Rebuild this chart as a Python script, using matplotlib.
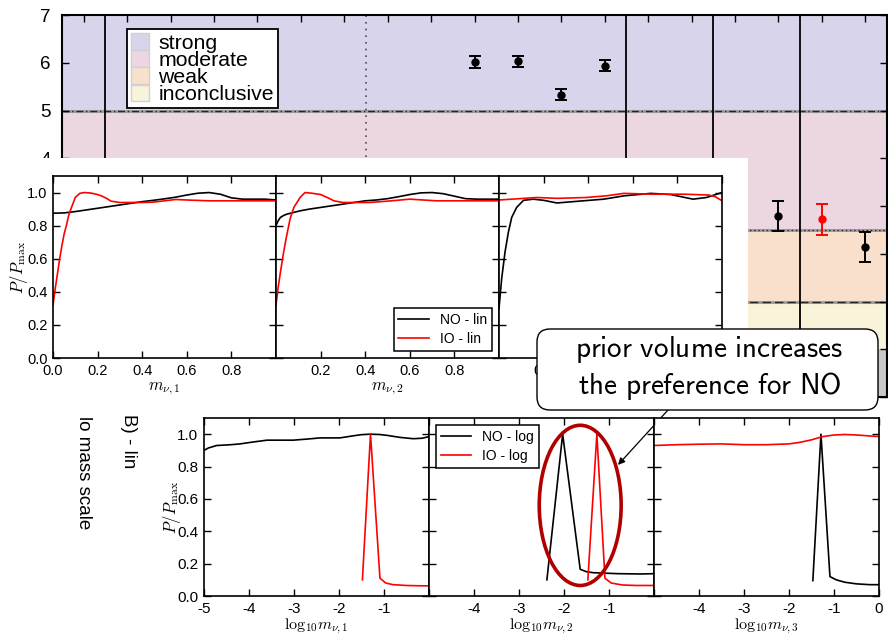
import matplotlib
matplotlib.use('Agg')
import matplotlib.pyplot as plt
from matplotlib.patches import Rectangle, Ellipse, FancyBboxPatch, Patch

plt.rcParams['font.family'] = ['Liberation Sans', 'DejaVu Sans']
plt.rcParams['mathtext.fontset'] = 'cm'
plt.rcParams['legend.fancybox'] = False
plt.rcParams['legend.edgecolor'] = 'black'
plt.rcParams['legend.framealpha'] = 1.0

# ---------------- data ----------------
# main evidence plot
pts_x = [9, 10, 11, 12, 16, 18]
pts_y = [6.02, 6.03, 5.33, 5.94, 2.79, 2.14]
pts_err = [0.12, 0.12, 0.12, 0.12, 0.32, 0.31]
red_x = [17]
red_y = [2.72]
red_err = [0.33]

region_bounds = [-1, 0, 1, 2.5, 5, 7]
region_colors = ['#c8c8c8', '#f8f3d9', '#f9e0cc', '#ecd6e2', '#d8d4eb']
region_labels = ['', 'inconclusive', 'weak', 'moderate', 'strong']

solid_sep = [0.5, 12.5, 14.5, 16.5]
dotted_sep = [6.5]
main_xticks = list(range(0, 19))
main_yticks = list(range(-1, 8))

# linear-prior panels (m_nu,i in [0,1])
lin1_no_x = [0, 0.05, 0.1, 0.15, 0.2, 0.25, 0.3, 0.35, 0.4, 0.45, 0.5, 0.55, 0.6, 0.65, 0.7, 0.75, 0.8, 0.85, 0.9, 0.95, 1.0]
lin1_no_y = [0.875, 0.877, 0.885, 0.895, 0.905, 0.915, 0.925, 0.935, 0.945, 0.953, 0.962, 0.972, 0.985, 0.996, 1.0, 0.99, 0.968, 0.96, 0.96, 0.96, 0.955]
lin1_io_x = [0, 0.01, 0.02, 0.03, 0.04, 0.05, 0.06, 0.07, 0.08, 0.1, 0.12, 0.14, 0.17, 0.2, 0.22, 0.24, 0.26, 0.3, 0.35, 0.4, 0.45, 0.5, 0.55, 0.6, 0.7, 0.8, 0.9, 1.0]
lin1_io_y = [0.32, 0.42, 0.51, 0.60, 0.68, 0.75, 0.80, 0.86, 0.90, 0.97, 0.995, 1.0, 0.997, 0.988, 0.978, 0.965, 0.948, 0.94, 0.94, 0.94, 0.942, 0.95, 0.958, 0.955, 0.95, 0.95, 0.95, 0.95]

lin2_no_x = [0, 0.01, 0.02, 0.035, 0.05, 0.08, 0.11, 0.15, 0.2, 0.25, 0.3, 0.35, 0.4, 0.45, 0.5, 0.55, 0.6, 0.65, 0.7, 0.75, 0.8, 0.85, 0.9, 0.95, 1.0]
lin2_no_y = [0.80, 0.83, 0.85, 0.862, 0.87, 0.88, 0.89, 0.90, 0.91, 0.92, 0.93, 0.94, 0.95, 0.955, 0.963, 0.975, 0.988, 0.998, 1.0, 0.993, 0.978, 0.963, 0.96, 0.96, 0.96]
lin2_io_x = [0, 0.01, 0.02, 0.033, 0.045, 0.063, 0.08, 0.108, 0.13, 0.16, 0.2, 0.23, 0.26, 0.3, 0.35, 0.42, 0.5, 0.6, 0.72, 0.85, 1.0]
lin2_io_y = [0.32, 0.43, 0.52, 0.63, 0.72, 0.84, 0.91, 0.97, 1.0, 0.996, 0.988, 0.97, 0.95, 0.94, 0.94, 0.94, 0.948, 0.96, 0.95, 0.95, 0.95]

lin3_no_x = [0, 0.012, 0.027, 0.042, 0.057, 0.079, 0.11, 0.154, 0.2, 0.26, 0.35, 0.47, 0.56, 0.68, 0.77, 0.87, 0.93, 1.0]
lin3_no_y = [0.30, 0.48, 0.64, 0.76, 0.85, 0.91, 0.953, 0.96, 0.953, 0.937, 0.947, 0.96, 0.98, 0.995, 0.988, 0.96, 0.97, 1.0]
lin3_io_x = [0, 0.08, 0.17, 0.26, 0.39, 0.48, 0.56, 0.69, 0.83, 0.94, 0.97, 1.0]
lin3_io_y = [0.955, 0.962, 0.97, 0.965, 0.97, 0.98, 0.995, 0.99, 0.99, 0.985, 0.975, 0.95]

# logarithmic-prior panels (log10 m_nu,i in [-5,0])
log1_no_x = [-5, -4.9, -4.72, -4.4, -4.2, -3.9, -3.6, -3.3, -3.02, -2.7, -2.42, -1.98, -1.68, -1.5, -1.31, -1.1, -0.94, -0.64, -0.35, -0.15, 0]
log1_no_y = [0.90, 0.915, 0.93, 0.935, 0.94, 0.952, 0.963, 0.963, 0.963, 0.97, 0.977, 0.977, 0.99, 0.997, 1.0, 0.998, 0.993, 0.98, 0.972, 0.975, 0.985]
log1_io_x = [-1.48, -1.30, -1.09, -0.96, -0.8, -0.5, -0.2, 0]
log1_io_y = [0.1, 1.0, 0.11, 0.08, 0.07, 0.065, 0.063, 0.063]

log2_no_x = [-2.38, -2.03, -1.64, -1.5, -1.35, -0.8, -0.3, 0]
log2_no_y = [0.1, 1.0, 0.165, 0.15, 0.144, 0.138, 0.136, 0.138]
log2_io_x = [-1.47, -1.27, -1.09, -0.95, -0.7, -0.4, 0]
log2_io_y = [0.1, 1.0, 0.11, 0.08, 0.068, 0.065, 0.065]

log3_no_x = [-1.47, -1.29, -1.09, -0.95, -0.76, -0.5, -0.2, 0]
log3_no_y = [0.095, 1.0, 0.12, 0.1, 0.085, 0.075, 0.07, 0.07]
log3_io_x = [-5, -4.5, -4, -3.5, -3, -2.5, -2, -1.75, -1.5, -1.25, -1, -0.75, -0.5, -0.25, 0]
log3_io_y = [0.93, 0.935, 0.938, 0.94, 0.935, 0.935, 0.94, 0.95, 0.965, 0.985, 0.995, 0.998, 0.995, 0.99, 0.985]

inset_yticks = [0.0, 0.2, 0.4, 0.6, 0.8, 1.0]
lin_xticks = [0.0, 0.2, 0.4, 0.6, 0.8]
log_xticks = [-5, -4, -3, -2, -1, 0]

callout_text = "$\\mathsf{prior\\ volume\\ increases}$\n$\\mathsf{the\\ preference\\ for\\ NO}$"

# ---------------- layout helpers ----------------
W, H = 888, 635
fig = plt.figure(figsize=(W / 100, H / 100), dpi=100)


def box(x0, y0, x1, y1):
    return [x0 / W, 1 - y1 / H, (x1 - x0) / W, (y1 - y0) / H]


# ---------------- main axes ----------------
ax = fig.add_axes(box(62, 15, 887, 397), zorder=0)
ax.set_xlim(-0.5, 18.5)
ax.set_ylim(-1, 7)
for lo, hi, c in zip(region_bounds[:-1], region_bounds[1:], region_colors):
    ax.axhspan(lo, hi, color=c, lw=0, zorder=0)

for yv, ls in [(5, (0, (5, 2, 1, 2))), (2.5, (0, (1, 2))), (1, (0, (6, 3)))]:
    ax.axhline(yv, color='0.62', lw=2.2, zorder=1)
    ax.axhline(yv, color='0.15', lw=1.0, ls=ls, zorder=1)

for xv in solid_sep:
    ax.axvline(xv, color='k', lw=1.3, zorder=2)
for xv in dotted_sep:
    ax.axvline(xv, color='0.3', lw=1.2, ls=(0, (1, 3)), zorder=2)

ax.errorbar(pts_x, pts_y, yerr=pts_err, fmt='o', color='k', ms=5,
            capsize=4, elinewidth=1.4, capthick=1.4, zorder=3)
ax.errorbar(red_x, red_y, yerr=red_err, fmt='o', color='#ff0000', ms=5,
            capsize=4, elinewidth=1.4, capthick=1.4, zorder=3)

ax.set_xticks(main_xticks)
ax.set_yticks(main_yticks)
ax.set_yticklabels([str(v) if v >= 3 else '' for v in main_yticks])
ax.tick_params(direction='in', top=True, right=True, labelbottom=False,
               length=5, width=1, labelsize=13.5, pad=8)
for s in ax.spines.values():
    s.set_linewidth(1.5)

handles = [Patch(facecolor=c, edgecolor='0.82', label=l)
           for c, l in zip(region_colors[::-1], region_labels[::-1]) if l]
ax.legend(handles=handles, loc='upper left',
          bbox_to_anchor=((127 - 62) / 825, 1 - (29 - 15) / 382),
          borderaxespad=0, fontsize=15.3, labelspacing=-0.12,
          handlelength=0.82, handleheight=0.82, handletextpad=0.45,
          borderpad=0.2, frameon=True).get_frame().set_linewidth(1.3)

# white backdrop of the upper inset
fig.add_artist(Rectangle((0, 1 - 410 / H), 748 / W, (410 - 158) / H,
                         transform=fig.transFigure, facecolor='white',
                         edgecolor='none', zorder=1))


def style_inset(a, xlim, xticks, ylabel_x, fs):
    a.set_xlim(*xlim)
    a.set_ylim(0, 1.1)
    a.set_yticks(inset_yticks)
    a.set_xticks(xticks)
    a.tick_params(direction='in', top=True, right=True, length=5, width=1,
                  labelsize=fs, labelleft=ylabel_x is not None, pad=4)
    for s in a.spines.values():
        s.set_linewidth(1.2)
    if ylabel_x is not None:
        a.set_ylabel(r'$P/P_{\rm max}$', fontsize=12)
        a.yaxis.set_label_coords(ylabel_x, 0.5)


# ---------------- upper inset: linear priors ----------------
lin_boxes = [(53, 176, 276, 358), (276, 176, 499, 358), (499, 176, 722, 358)]
lin_data = [(lin1_no_x, lin1_no_y, lin1_io_x, lin1_io_y),
            (lin2_no_x, lin2_no_y, lin2_io_x, lin2_io_y),
            (lin3_no_x, lin3_no_y, lin3_io_x, lin3_io_y)]
lin_axes = []
for i, (b, d) in enumerate(zip(lin_boxes, lin_data)):
    a = fig.add_axes(box(*b), zorder=2)
    a.plot(d[0], d[1], color='k', lw=1.2, label='NO - lin')
    a.plot(d[2], d[3], color='#ff0000', lw=1.2, label='IO - lin')
    style_inset(a, (0, 1), lin_xticks, (30 - 53) / 223 if i == 0 else None, 10.5)
    if i > 0:
        a.set_xticks(lin_xticks[1:] + [1.0])
        a.set_xticklabels([f'{v:.1f}' for v in lin_xticks[1:]] + [''])
    a.set_xlabel(r'$m_{\nu,%d}$' % (i + 1), fontsize=12, labelpad=2)
    lin_axes.append(a)
lin_axes[1].legend(loc='lower right', fontsize=10, handlelength=2.2,
                   borderaxespad=0.5, borderpad=0.35,
                   labelspacing=0.35).get_frame().set_linewidth(1.1)

# ---------------- lower inset: log priors ----------------
log_boxes = [(204, 418, 429, 596), (429, 418, 654, 596), (654, 418, 879, 596)]
log_data = [(log1_no_x, log1_no_y, log1_io_x, log1_io_y),
            (log2_no_x, log2_no_y, log2_io_x, log2_io_y),
            (log3_no_x, log3_no_y, log3_io_x, log3_io_y)]
log_axes = []
for i, (b, d) in enumerate(zip(log_boxes, log_data)):
    a = fig.add_axes(box(*b), zorder=2)
    a.plot(d[0], d[1], color='k', lw=1.2, label='NO - log')
    a.plot(d[2], d[3], color='#ff0000', lw=1.2, label='IO - log')
    style_inset(a, (-5, 0), log_xticks, (183 - 204) / 225 if i == 0 else None, 11)
    if i == 0:
        a.set_xticklabels([str(v) for v in log_xticks[:-1]] + [''])
    elif i == 1:
        a.set_xticklabels([''] + [str(v) for v in log_xticks[1:-1]] + [''])
    else:
        a.set_xticklabels([''] + [str(v) for v in log_xticks[1:]])
    a.set_xlabel(r'$\mathrm{log}_{10}m_{\nu,%d}$' % (i + 1), fontsize=11.5, labelpad=1)
    log_axes.append(a)
log_axes[1].legend(loc='upper left', fontsize=10, handlelength=2.2,
                   borderaxespad=0.5, borderpad=0.35,
                   labelspacing=0.35).get_frame().set_linewidth(1.1)

# highlight ellipse and arrow
log_axes[1].add_patch(Ellipse((-1.64, 0.56), 1.82, 0.99, fill=False,
                              edgecolor='#b00000', lw=2.6, clip_on=False, zorder=5))
log_axes[1].annotate('', xy=(-0.8, 0.81), xycoords='data',
                     xytext=(668, H - 410), textcoords='figure pixels',
                     arrowprops=dict(arrowstyle='-|>', color='k', lw=0.9,
                                     mutation_scale=10, shrinkA=0, shrinkB=0),
                     annotation_clip=False, zorder=4)

# callout box
fig.add_artist(FancyBboxPatch((537 / 100, (H - 410) / 100), (878 - 537) / 100, (410 - 329) / 100,
                              boxstyle='round,pad=0,rounding_size=0.13',
                              transform=fig.dpi_scale_trans, facecolor='white',
                              edgecolor='k', lw=1.0, zorder=6))
fig.text((537 + 878) / 2 / W + 2 / W, 1 - 368 / H, callout_text, ha='center', va='center',
         fontsize=21, linespacing=1.2, zorder=7)

# rotated side labels
fig.text(128 / W, 1 - 441 / H, 'B) - lin', rotation=-90, ha='center', va='center',
         fontsize=13.5, zorder=3)
fig.text(83 / W, 1 - 473 / H, 'lo mass scale', rotation=-90, ha='center', va='center',
         fontsize=13.5, zorder=3)

fig.savefig('out.png', dpi=100)
